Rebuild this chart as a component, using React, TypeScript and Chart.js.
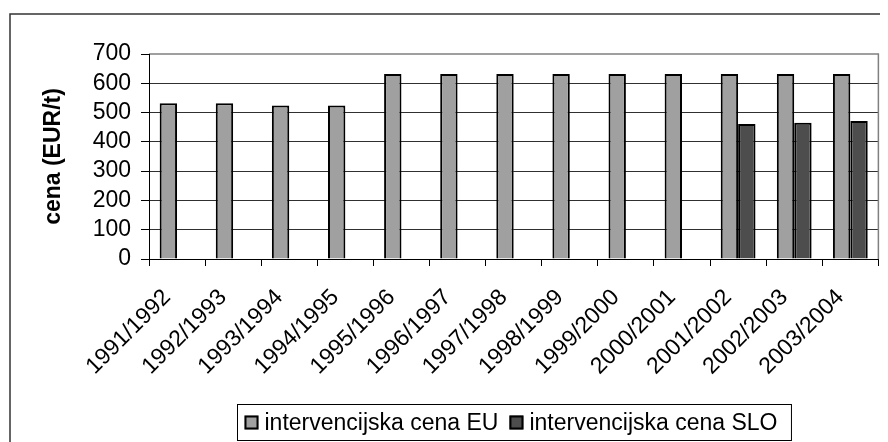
import React, { useEffect, useRef } from "react";
import { Chart, registerables } from "chart.js";

Chart.register(...registerables);

const categories = [
  "1991/1992", "1992/1993", "1993/1994", "1994/1995", "1995/1996", "1996/1997",
  "1997/1998", "1998/1999", "1999/2000", "2000/2001", "2001/2002", "2002/2003", "2003/2004",
];
const euValues = [532, 532, 524, 524, 632, 632, 632, 632, 632, 632, 632, 632, 632];
const sloValues = [null, null, null, null, null, null, null, null, null, null, 461, 465, 471];
const yMin = 0;
const yMax = 700;
const yStep = 100;
const seriesLabels = ["intervencijska cena EU", "intervencijska cena SLO"];
const yTitle = "cena (EUR/t)";

const FONT = "'Liberation Sans', Arial, sans-serif";

const framePlugin = {
  id: "frame",
  afterDraw(chart: any) {
    const ctx = chart.ctx;
    const { left, top, right, bottom } = chart.chartArea;
    ctx.save();
    // outer chart border (top & left visible)
    ctx.strokeStyle = "#333";
    ctx.lineWidth = 1.5;
    ctx.beginPath();
    ctx.moveTo(2, chart.height + 5);
    ctx.lineTo(2, 6);
    ctx.lineTo(chart.width + 5, 6);
    ctx.stroke();
    // plot area border (top & right grey)
    ctx.strokeStyle = "#808080";
    ctx.lineWidth = 1.5;
    ctx.beginPath();
    ctx.moveTo(left, top);
    ctx.lineTo(right, top);
    ctx.lineTo(right, bottom);
    ctx.stroke();
    // axis lines
    ctx.strokeStyle = "#000";
    ctx.lineWidth = 1;
    ctx.beginPath();
    ctx.moveTo(left + 0.5, top);
    ctx.lineTo(left + 0.5, bottom);
    ctx.moveTo(left, bottom + 0.5);
    ctx.lineTo(right, bottom + 0.5);
    ctx.stroke();

    // legend
    const fontSize = 23;
    ctx.font = `${fontSize}px ${FONT}`;
    const ds = chart.data.datasets;
    const marker = 14;
    const gapText = 6;
    const gapItem = 11;
    const padL = 7;
    const padR = 14;
    const widths = ds.map((d: any) => ctx.measureText(d.label).width);
    let total = padL + padR;
    widths.forEach((w: number, i: number) => {
      total += marker + gapText + w + (i > 0 ? gapItem : 0);
    });
    const cx = (left + right) / 2;
    const boxL = Math.round(cx - total / 2) + 0.5;
    const boxT = 396.5;
    const boxH = 36;
    ctx.fillStyle = "#fff";
    ctx.fillRect(boxL, boxT, total, boxH);
    ctx.strokeStyle = "#000";
    ctx.lineWidth = 1;
    ctx.strokeRect(boxL, boxT, total, boxH);
    let x = boxL + padL;
    const midY = boxT + boxH / 2;
    ds.forEach((d: any, i: number) => {
      if (i > 0) x += gapItem;
      ctx.fillStyle = d.backgroundColor;
      ctx.fillRect(x, midY - marker / 2, marker, marker);
      ctx.strokeStyle = "#000";
      ctx.lineWidth = 2;
      ctx.strokeRect(x + 1, midY - marker / 2 + 1, marker - 2, marker - 2);
      x += marker + gapText;
      ctx.fillStyle = "#000";
      ctx.textBaseline = "middle";
      ctx.textAlign = "left";
      ctx.fillText(d.label, x, midY + 1);
      x += widths[i];
    });
    ctx.restore();
  },
};

export default function App() {
  const ref = useRef<HTMLCanvasElement | null>(null);
  useEffect(() => {
    if (!ref.current) return;
    const chart = new Chart(ref.current, {
      type: "bar",
      data: {
        labels: categories,
        datasets: [
          {
            label: seriesLabels[0],
            data: euValues,
            backgroundColor: "#a0a0a0",
            borderColor: "#000",
            borderWidth: 2,
          },
          {
            label: seriesLabels[1],
            data: sloValues as any,
            backgroundColor: "#4d4d4d",
            borderColor: "#000",
            borderWidth: 2,
          },
        ],
      },
      options: {
        animation: false,
        responsive: false,
        maintainAspectRatio: false,
        layout: { padding: { top: 46, right: 4, left: 0, bottom: 0 } },
        datasets: { bar: { categoryPercentage: 0.62, barPercentage: 1.0 } },
        plugins: {
          legend: { display: false },
          tooltip: { enabled: false },
        },
        scales: {
          x: {
            grid: {
              offset: true,
              drawOnChartArea: false,
              drawTicks: true,
              tickLength: 7,
              color: "#000",
            },
            border: { display: false },
            ticks: {
              color: "#000",
              font: { family: FONT, size: 23 },
              minRotation: 45,
              maxRotation: 45,
              autoSkip: false,
              padding: 18,
              labelOffset: -10,
            },
            afterFit(axis: any) {
              axis.height = 183;
            },
          },
          y: {
            min: yMin,
            max: yMax,
            grid: {
              color: (c: any) => (c.tick && c.tick.value === yMax ? "rgba(0,0,0,0)" : "#303030"),
              tickColor: "#000",
              tickLength: 8,
              lineWidth: 1,
            },
            border: { display: false },
            ticks: {
              color: "#000",
              font: { family: FONT, size: 23 },
              padding: 10,
              stepSize: yStep,
              autoSkip: false,
            },
            title: {
              display: true,
              text: yTitle,
              color: "#000",
              font: { family: FONT, size: 23, weight: "bold" },
              padding: { top: 32, bottom: 0 },
            },
            afterFit(axis: any) {
              axis.width = 141;
            },
          },
        },
      },
      plugins: [framePlugin],
    });
    return () => chart.destroy();
  }, []);
  return (
    <div style={{ width: 880, height: 434 }}>
      <canvas ref={ref} width={880} height={434} style={{ display: "block", width: 880, height: 434 }} />
    </div>
  );
}
